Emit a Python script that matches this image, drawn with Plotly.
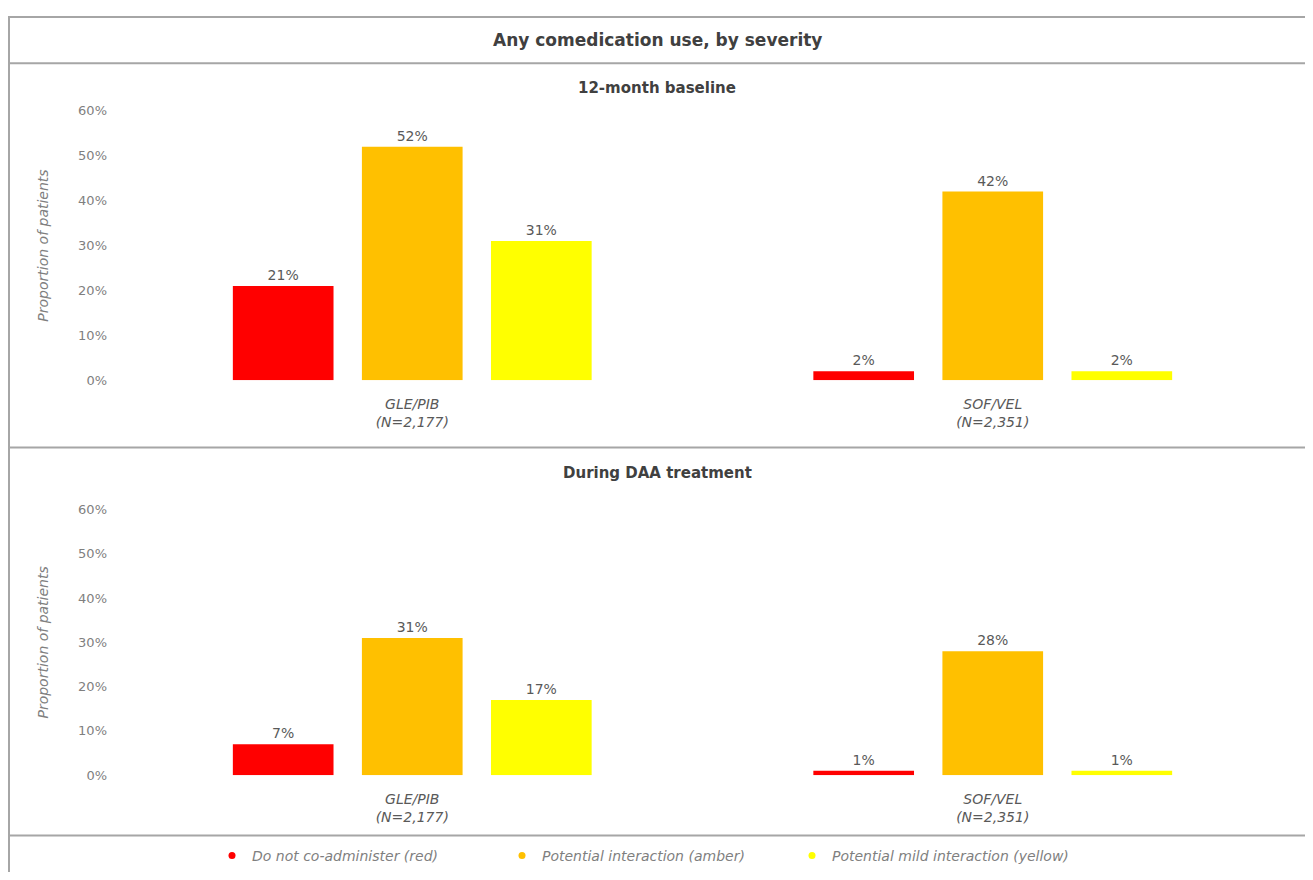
import plotly.graph_objects as go

# data
categories = ["<i>GLE/PIB</i><br><i>(N=2,177)</i>", "<i>SOF/VEL</i><br><i>(N=2,351)</i>"]
severity = ["Do not co-administer (red)", "Potential interaction (amber)",
            "Potential mild interaction (yellow)"]
colors = ["#FF0000", "#FFC000", "#FFFF00"]

baseline_red = [0.21, 0.02]
baseline_amber = [0.52, 0.42]
baseline_yellow = [0.31, 0.02]

during_red = [0.07, 0.01]
during_amber = [0.31, 0.28]
during_yellow = [0.17, 0.01]

# the page body has an 8px margin, so the figure sits at (8, 8) on screen
OFF = 8
W, H = 1313 - 2 * OFF, 880 - 2 * OFF
FONT = "DejaVu Sans, Arial, sans-serif"
GREY = "#595959"
LIGHT = "#7F7F7F"


def px(x):
    return (x - OFF) / W


def py(y):
    # small vertical correction seen in the captured page
    return 1 - ((y - 11) / 0.993) / H


fig = go.Figure()

panels = [
    ("x", "y", [baseline_red, baseline_amber, baseline_yellow]),
    ("x2", "y2", [during_red, during_amber, during_yellow]),
]
for xa, ya, series in panels:
    for name, col, vals in zip(severity, colors, series):
        fig.add_trace(go.Bar(
            x=categories, y=vals, name=name, marker_color=col,
            marker_line_width=0,
            texttemplate="%{y:.0%}", textposition="outside",
            textfont=dict(size=14, color=GREY, family=FONT),
            cliponaxis=False,
            xaxis=xa, yaxis=ya, showlegend=False,
        ))

# legend entries as small dots, like the original
for name, col in zip(severity, colors):
    fig.add_trace(go.Scatter(
        x=[None], y=[None], mode="markers", name=name,
        marker=dict(color=col, size=7, symbol="circle"),
        xaxis="x2", yaxis="y2",
    ))

axis_common = dict(showgrid=False, zeroline=False, showline=False)
yaxis_common = dict(
    axis_common, range=[0, 0.6], tickvals=[0, 0.1, 0.2, 0.3, 0.4, 0.5, 0.6],
    tickformat=".0%", ticklabelstandoff=14,
    tickfont=dict(size=13, color=LIGHT, family=FONT),
    title=dict(text="Proportion of patients", standoff=26,
               font=dict(size=14, color=LIGHT, family=FONT, style="italic")),
)
xaxis_common = dict(
    axis_common, tickfont=dict(size=14, color=GREY, family=FONT),
    domain=[px(122), px(1283)], ticklabelstandoff=14,
)

fig.update_layout(
    width=W, height=H,
    margin=dict(l=0, r=0, t=0, b=0),
    paper_bgcolor="white", plot_bgcolor="white",
    barmode="group", bargap=0.333, bargroupgap=0.22,
    font=dict(family=FONT),
    xaxis=dict(xaxis_common, anchor="y"),
    yaxis=dict(yaxis_common, domain=[py(381), py(108)], anchor="x"),
    xaxis2=dict(xaxis_common, anchor="y2"),
    yaxis2=dict(yaxis_common, domain=[py(781), py(512)], anchor="x2"),
    legend=dict(
        orientation="h", x=px(212), xanchor="left", y=py(863), yanchor="middle",
        font=dict(size=14, color=LIGHT, family=FONT, style="italic"),
        itemwidth=30, entrywidth=245, traceorder="normal",
        bgcolor="rgba(0,0,0,0)",
    ),
)

# frame and separator lines
line = dict(color="#A6A6A6", width=2)
fig.add_shape(type="rect", xref="paper", yref="paper",
              x0=px(9), x1=px(1312), y0=-0.02, y1=py(13), line=line)
for yy in [60, 449, 842]:
    fig.add_shape(type="line", xref="paper", yref="paper",
                  x0=px(9), x1=px(1312), y0=py(yy), y1=py(yy), line=line)

titles = [
    ("<b>Any comedication use, by severity</b>", 36, 17),
    ("<b>12-month baseline</b>", 85, 15),
    ("<b>During DAA treatment</b>", 475, 15),
]
for txt, yy, sz in titles:
    fig.add_annotation(text=txt, xref="paper", yref="paper", x=px(657), y=py(yy),
                       xanchor="center", yanchor="middle", showarrow=False,
                       font=dict(size=sz, color="#404040", family=FONT))

fig.write_html("out.html")
